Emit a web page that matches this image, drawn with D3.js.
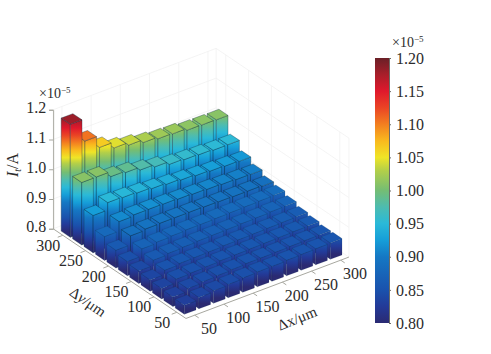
<!DOCTYPE html>
<html>
<head>
<meta charset="utf-8">
<script src="https://cdn.jsdelivr.net/npm/d3@7"></script>
<style>
  html, body { margin: 0; padding: 0; background: #fff; }
  text { font-family: "Liberation Serif", serif; fill: #2b2b2b; }
</style>
</head>
<body>
<div id="chart"></div>
<script>
const dxValues = [50, 75, 100, 125, 150, 175, 200, 225, 250, 275, 300];
const dyValues = [50, 75, 100, 125, 150, 175, 200, 225, 250, 275, 300];

// one row per dy, values in units of 1e-5 A
const row50 = [0.830, 0.838, 0.842, 0.845, 0.848, 0.850, 0.850, 0.852, 0.853, 0.854, 0.855];
const row75 = [0.832, 0.842, 0.846, 0.848, 0.850, 0.852, 0.852, 0.853, 0.854, 0.855, 0.855];
const row100 = [0.835, 0.848, 0.850, 0.852, 0.854, 0.855, 0.856, 0.857, 0.858, 0.859, 0.860];
const row125 = [0.838, 0.852, 0.856, 0.857, 0.858, 0.860, 0.861, 0.862, 0.863, 0.864, 0.865];
const row150 = [0.842, 0.860, 0.864, 0.866, 0.868, 0.869, 0.870, 0.871, 0.872, 0.874, 0.875];
const row175 = [0.848, 0.872, 0.876, 0.878, 0.880, 0.880, 0.881, 0.882, 0.883, 0.884, 0.885];
const row200 = [0.860, 0.890, 0.894, 0.895, 0.895, 0.895, 0.894, 0.893, 0.892, 0.892, 0.890];
const row225 = [0.880, 0.912, 0.916, 0.916, 0.915, 0.913, 0.911, 0.909, 0.907, 0.905, 0.904];
const row250 = [0.925, 0.950, 0.948, 0.945, 0.941, 0.937, 0.933, 0.929, 0.926, 0.924, 0.922];
const row275 = [1.010, 1.010, 0.993, 0.988, 0.978, 0.970, 0.960, 0.957, 0.955, 0.952, 0.952];
const row300 = [1.180, 1.105, 1.065, 1.045, 1.036, 1.026, 1.020, 1.018, 1.012, 1.011, 1.010];
const rows = [row50, row75, row100, row125, row150, row175, row200, row225, row250, row275, row300];

const groundTicks = [50, 100, 150, 200, 250, 300];
const zTicks = [0.8, 0.9, 1.0, 1.1, 1.2];
const barTicks = [0.80, 0.85, 0.90, 0.95, 1.00, 1.05, 1.10, 1.15, 1.20];

const colorStops = [0.80, 0.825, 0.85, 0.90, 0.925, 0.95, 0.975, 1.00, 1.03, 1.05, 1.075, 1.10, 1.125, 1.15, 1.175, 1.20];
const colorValues = ['#2b2a72', '#233a98', '#1a52ad', '#1578c4', '#169ed8', '#2ab9d8', '#4dbcb0', '#74bd74', '#b3cf49', '#efe527', '#f9b91e', '#f37f20', '#ea4425', '#e0182c', '#a81e2a', '#6a2027'];

const width = 491;
const height = 354;

// oblique view of the box: screen step for one bar along each ground direction
const origin = [185.6, 309];
const stepX = [14.6, -5.5];
const stepY = [-11.4, -7.7];
const barHalf = 0.4;

const uScale = d3.scaleLinear().domain([50, 300]).range([0, 10]);
const vScale = d3.scaleLinear().domain([50, 300]).range([0, 10]);
const zScale = d3.scaleLinear().domain([0.8, 1.2]).range([0, 119]);
const color = d3.scaleLinear().domain(colorStops).range(colorValues).clamp(true);

const uMin = -0.6, uMax = 10.56, vMin = -0.8, vMax = 10.85;

function project(u, v, z) {
  return [
    origin[0] + stepX[0] * u + stepY[0] * v,
    origin[1] + stepX[1] * u + stepY[1] * v - zScale(z)
  ];
}

const svg = d3.select('#chart').append('svg')
  .attr('width', width)
  .attr('height', height)
  .style('display', 'block');
const defs = svg.append('defs');

// back walls
const grid = svg.append('g')
  .attr('fill', 'none')
  .attr('stroke', '#f1f1f1')
  .attr('stroke-width', 0.8);
const lineOf = (pts) => d3.line()(pts);

zTicks.forEach((z) => {
  grid.append('path').attr('d', lineOf([project(uMin, vMax, z), project(uMax, vMax, z), project(uMax, vMin, z)]));
});
groundTicks.forEach((t) => {
  const u = uScale(t);
  const v = vScale(t);
  grid.append('path').attr('d', lineOf([project(u, vMax, 0.8), project(u, vMax, 1.2)]));
  grid.append('path').attr('d', lineOf([project(uMax, v, 0.8), project(uMax, v, 1.2)]));
});
[[uMin, vMax], [uMax, vMax], [uMax, vMin]].forEach(([u, v]) => {
  grid.append('path').attr('d', lineOf([project(u, v, 0.8), project(u, v, 1.2)]));
});

// ground axes
const axisColor = '#a8a8a0';
const axes = svg.append('g').attr('fill', 'none').attr('stroke', axisColor).attr('stroke-width', 1);
axes.append('path').attr('d', lineOf([project(uMin, vMax, 0.8), project(uMin, vMin, 0.8), project(uMax, vMin, 0.8)]));
groundTicks.forEach((t) => {
  const u = uScale(t);
  const v = vScale(t);
  axes.append('path').attr('d', lineOf([project(u, vMin, 0.8), project(u, vMin - 0.35, 0.8)]));
  axes.append('path').attr('d', lineOf([project(uMin, v, 0.8), project(uMin - 0.35, v, 0.8)]));
  const xp = project(u, vMin - 1.35, 0.8);
  svg.append('text').attr('x', xp[0] - 1).attr('y', xp[1] + 8)
    .attr('text-anchor', 'middle').attr('font-size', 16).text(t);
  const yp = project(uMin - 1.35, v, 0.8);
  svg.append('text').attr('x', yp[0] + 5).attr('y', yp[1] + 8)
    .attr('text-anchor', 'middle').attr('font-size', 16).text(t);
});

// z axis
const zBase = project(uMin, vMax, 0.8);
const zAxisScale = d3.scaleLinear().domain([0.8, 1.2]).range([zBase[1], zBase[1] - zScale(1.2)]);
const zAxis = svg.append('g')
  .attr('transform', `translate(${zBase[0]},0)`)
  .call(d3.axisLeft(zAxisScale).tickValues(zTicks).tickFormat(d3.format('.1f')).tickSize(4).tickPadding(3));
zAxis.selectAll('path, line').attr('stroke', axisColor);
zAxis.selectAll('text').attr('font-size', 16).attr('font-family', '"Liberation Serif", serif').attr('dy', '0.2em');

// bars, far ones first
const bars = [];
rows.forEach((row, j) => {
  row.forEach((value, i) => {
    bars.push({ dx: dxValues[i], dy: dyValues[j], value, id: `g${i}-${j}` });
  });
});
bars.sort((a, b) => (b.dx + b.dy) - (a.dx + a.dy));

const barLayer = svg.append('g');
bars.forEach((d) => {
  const u = uScale(d.dx);
  const v = vScale(d.dy);
  const u0 = u - barHalf, u1 = u + barHalf, v0 = v - barHalf, v1 = v + barHalf;
  const grad = defs.append('linearGradient')
    .attr('id', d.id)
    .attr('gradientUnits', 'userSpaceOnUse')
    .attr('x1', 0).attr('x2', 0)
    .attr('y1', project(u, v, 0.8)[1])
    .attr('y2', project(u, v, 1.2)[1]);
  colorStops.forEach((s) => {
    grad.append('stop')
      .attr('offset', (s - 0.8) / 0.4)
      .attr('stop-color', color(s));
  });
  const faces = [
    { pts: [[u0, v1, 0.8], [u0, v0, 0.8], [u0, v0, d.value], [u0, v1, d.value]], fill: `url(#${d.id})` },
    { pts: [[u0, v0, 0.8], [u1, v0, 0.8], [u1, v0, d.value], [u0, v0, d.value]], fill: `url(#${d.id})` },
    { pts: [[u0, v0, d.value], [u1, v0, d.value], [u1, v1, d.value], [u0, v1, d.value]], fill: color(d.value) }
  ];
  faces.forEach((f) => {
    barLayer.append('path')
      .attr('d', d3.line()(f.pts.map((p) => project(p[0], p[1], p[2]))) + 'Z')
      .attr('fill', f.fill)
      .attr('stroke', '#0b2c40')
      // edges hardly show on the short dark bars
      .attr('stroke-opacity', d.value < 0.89 ? 0.22 : 0.5)
      .attr('stroke-width', 0.7)
      .attr('stroke-linejoin', 'round');
  });
});

function addExponent(x, y) {
  const t = svg.append('text').attr('x', x).attr('y', y).attr('font-size', 14);
  t.append('tspan').text('×10');
  t.append('tspan').attr('dy', -5).attr('font-size', 9).text('−5');
}
addExponent(39, 98);
addExponent(392, 47);

// axis titles
const zTitle = svg.append('text')
  .attr('transform', 'translate(18,165) rotate(-90)')
  .attr('text-anchor', 'middle')
  .attr('font-size', 16);
zTitle.append('tspan').attr('font-style', 'italic').text('I');
zTitle.append('tspan').attr('font-style', 'italic').attr('font-size', 10).attr('dy', 3).text('t');
zTitle.append('tspan').attr('dy', -3).text('/A');

const yTitle = svg.append('text')
  .attr('transform', 'translate(85,306) rotate(35)')
  .attr('text-anchor', 'middle')
  .attr('font-size', 15);
yTitle.append('tspan').text('Δ');
yTitle.append('tspan').attr('font-style', 'italic').text('y');
yTitle.append('tspan').text('/μm');

const xTitle = svg.append('text')
  .attr('transform', 'translate(299,323) rotate(-22)')
  .attr('text-anchor', 'middle')
  .attr('font-size', 15)
  .text('Δx/μm');

// colour bar
const barX = 375, barW = 14, barTop = 58, barBottom = 323;
const cbScale = d3.scaleLinear().domain([0.8, 1.2]).range([barBottom, barTop]);
const cbGrad = defs.append('linearGradient').attr('id', 'cb')
  .attr('x1', 0).attr('x2', 0).attr('y1', 1).attr('y2', 0);
colorStops.forEach((s) => {
  cbGrad.append('stop').attr('offset', (s - 0.8) / 0.4).attr('stop-color', color(s));
});
svg.append('rect')
  .attr('x', barX).attr('y', barTop).attr('width', barW).attr('height', barBottom - barTop)
  .attr('fill', 'url(#cb)');
const cbAxis = svg.append('g')
  .attr('transform', `translate(${barX + barW},0)`)
  .call(d3.axisRight(cbScale).tickValues(barTicks).tickFormat(d3.format('.2f')).tickSize(2).tickPadding(5));
cbAxis.select('path').attr('stroke', '#6b6b66');
cbAxis.selectAll('line').attr('stroke', '#6b6b66');
cbAxis.selectAll('text').attr('font-size', 16).attr('font-family', '"Liberation Serif", serif');
</script>
</body>
</html>
